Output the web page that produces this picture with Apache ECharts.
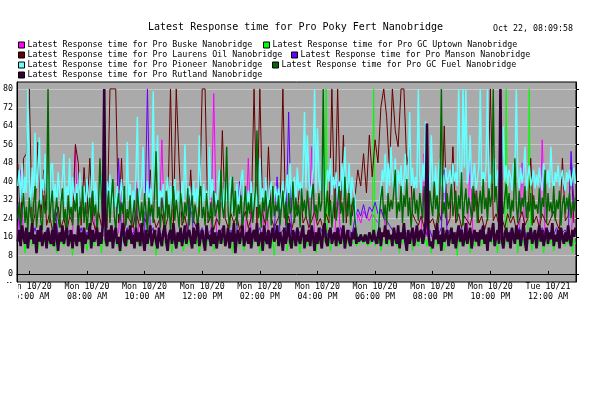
<!DOCTYPE html>
<html><head><meta charset="utf-8">
<script src="https://cdn.jsdelivr.net/npm/echarts@6/dist/echarts.min.js"></script>
<style>html,body{margin:0;padding:0;background:#fff}#c{width:616px;height:393px}</style>
</head><body><div id="c"></div>
<script>
// ---- data: minutes since Mon 10/20 00:00; each series sampled from START_MIN at its own step ----
const START_MIN = 336;
const seriesNames = [
  'Latest Response time for Pro Buske Nanobridge',
  'Latest Response time for Pro GC Uptown Nanobridge',
  'Latest Response time for Pro Laurens Oil Nanobridge',
  'Latest Response time for Pro Manson Nanobridge',
  'Latest Response time for Pro Pioneer Nanobridge',
  'Latest Response time for Pro GC Fuel Nanobridge',
  'Latest Response time for Pro Rutland Nanobridge'
];
const seriesStepMin = [6, 3, 6, 6, 3, 3, 3];
const buske = [16,45,15,18,14,17,16,19,14,16, 15,18,16,14,17,16,19,15,16,16, 55,16,17,15,18,16,33,14,16,16, 17,15,16,19,16,18,38,16,15,17,
  16,40,16,14,18,16,17,15,19,16, 58,16,15,18,16,17,14,16,16,19, 16,15,17,16,18,16,14,16,78,17, 16,18,15,16,16,19,14,17,16,16,
  50,16,18,15,17,16,42,16,14,18, 16,17,15,19,16,16,18,14,17,16, 15,18,55,16,17,14,16,19,16,17, 16,40,15,17,16,18,16,17,26,22,
  27,25,23,26,24,22,28,25,17,16, 16,17,15,16,18,16,17,16,19,15, 16,52,16,18,16,17,15,16,19,16, 15,17,16,15,18,16,17,50,15,16,
  18,15,17,16,19,15,16,14,17,16, 15,18,16,17,15,48,16,15,18,16, 17,15,58,16,15,18,16,17,15,16, 16,18,15,34];
const gcUptown = [
  14,16,13,15,17,9,15,13,16,14,12,15,17,13,10,15,14,16,13,15,
  16,13,14,12,15,17,13,9,14,16,13,15,12,14,17,13,15,14,8,16,
  13,15,14,17,12,16,13,15,10,14,16,13,17,12,15,14,13,16,9,15,
  14,12,16,13,20,15,14,13,16,12,15,9,14,16,13,15,12,17,14,13,
  15,13,16,14,12,17,13,15,10,14,16,13,12,15,14,17,8,13,15,14,
  16,12,14,15,13,17,14,9,15,13,16,12,14,15,13,10,16,14,12,15,
  13,15,14,16,12,15,9,14,13,17,15,12,14,16,13,15,10,14,16,13,
  14,16,13,15,12,17,14,13,16,9,15,13,14,16,12,15,13,10,14,16,
  15,13,16,12,14,17,13,15,9,14,16,12,15,13,14,17,12,15,8,14,
  13,16,14,12,15,13,17,10,14,16,13,15,12,14,16,13,9,15,14,13,
  16,12,15,14,13,17,15,9,14,13,16,12,15,14,80,13,16,10,14,15,
  13,15,14,12,16,13,15,14,13,16,12,15,14,13,15,12,14,13,15,14,
  13,15,14,12,16,13,14,80,12,15,13,16,10,14,15,13,16,12,15,14,
  16,13,15,12,14,9,16,13,15,14,12,17,13,15,10,14,16,13,12,15,
  14,16,13,15,12,17,14,9,15,13,16,12,14,15,13,17,10,14,16,13,
  15,13,16,12,14,8,15,13,17,14,12,16,13,15,9,14,16,12,15,13,
  14,16,12,15,13,17,10,14,16,13,15,12,14,9,16,13,15,14,12,80,
  13,15,12,16,14,13,17,9,15,13,16,12,14,15,13,80,14,10,16,13,
  15,12,14,16,13,9,15,14,12,17,13,15,10,14,16,13,12,15,14,13,
  12,15,13,16,14,9,15,13];
const laurensOil = [48,22,50,52,80,20,26,57,24,45, 21,26,19,23,29,20,24,18,25,22, 56,48,21,46,26,50,23,19,27,21, 24,20,80,80,80,22,50,19,25,23,
  20,27,22,18,24,21,45,25,20,23, 26,19,24,80,22,80,48,21,25,18, 45,23,20,26,80,80,22,25,19,24, 21,62,24,20,26,22,25,19,23,27,
  20,24,80,22,80,26,21,55,24,20, 23,26,80,21,25,19,24,27,40,22, 25,20,23,27,21,24,19,26,22,80, 24,80,27,60,22,40,25,33,45,38,
  52,35,60,42,58,48,72,80,68,45, 80,62,55,80,80,47,55,26,23,21, 25,20,26,22,24,19,27,23,64,21, 24,55,22,26,20,25,23,21,27,40,
  22,25,19,24,80,23,26,21,24,20, 26,22,25,19,23,27,21,24,50,22, 25,20,26,23,21,24,27,22,19,50, 23,25,48,22];
const manson = [30,17,19,16,18,16,20,15,17,16, 19,15,17,28,16,18,15,17,19,15, 17,16,20,15,18,17,19,15,17,16, 32,18,15,19,17,50,17,16,20,15,
  18,17,15,19,16,80,17,20,15,18, 17,19,16,17,20,15,18,17,15,19, 34,16,18,17,20,15,17,19,16,18, 17,20,15,17,19,16,18,40,17,15,
  19,16,18,17,20,15,17,19,16,18, 42,17,19,15,70,17,16,20,17,18, 15,19,17,18,16,20,17,15,19,17, 18,16,20,17,15,19,17,24,28,25,
  30,24,29,27,31,26,28,24,23,21, 19,17,18,15,20,17,16,19,17,18, 16,20,17,19,15,18,17,20,45,17, 19,16,18,17,20,15,17,19,16,18,
  17,20,15,18,17,19,16,20,17,18, 15,19,17,16,20,17,18,15,19,17, 16,18,20,17,19,15,17,20,17,18, 19,16,53,30];
const pioneer = [
  38,45,31,48,27,42,35,80,40,29,46,33,61,37,44,59,30,41,36,52,
  34,43,28,47,48,32,39,27,44,36,30,41,52,29,38,33,50,28,42,35,
  31,39,27,44,33,29,38,26,41,34,30,37,57,28,40,32,27,36,42,30,
  35,28,40,31,43,27,37,33,29,38,26,34,41,30,36,28,57,32,39,27,
  36,31,42,68,29,35,38,55,27,33,40,30,37,28,79,34,41,60,29,36,
  32,39,27,35,42,30,38,28,34,41,29,36,33,27,40,31,56,35,29,38,
  33,27,40,31,37,29,60,34,28,39,32,36,27,55,33,41,29,35,30,38,
  45,31,37,28,40,33,29,36,42,27,34,30,39,28,35,41,45,31,37,29,
  36,30,40,27,34,38,29,35,50,31,37,28,42,33,29,36,40,30,34,38,
  31,37,28,35,40,30,36,43,29,48,33,38,42,30,46,36,40,32,44,70,
  37,60,42,33,39,46,80,35,63,41,36,44,60,33,38,45,40,50,34,42,
  37,44,31,40,36,48,33,55,39,35,48,30,42,36,34,18,15,17,14,16,
  15,17,14,16,18,15,17,14,16,15,18,30,36,45,40,52,34,48,38,55,
  42,36,50,33,45,39,47,35,41,52,34,44,70,38,46,35,42,37,80,43,
  35,48,40,66,37,44,34,60,41,36,47,33,45,50,38,43,35,46,39,42,
  45,36,48,40,44,38,80,42,35,80,46,80,39,44,60,37,43,48,36,41,
  46,80,38,44,40,47,80,36,43,39,48,50,37,45,41,36,44,64,40,47,
  38,45,42,36,48,40,80,43,37,46,39,44,55,36,42,47,38,41,45,37,
  43,38,46,40,36,48,42,39,45,37,55,41,36,44,40,47,38,42,45,39,
  36,44,40,45,38,42,46,39];
const gcFuel = [
  24,31,19,27,35,22,29,18,33,25,21,30,38,20,27,32,23,19,34,26,
  28,80,22,30,36,19,26,33,24,20,31,37,23,28,18,34,25,29,21,32,
  27,35,20,29,24,38,22,31,19,27,33,21,36,25,30,18,28,50,34,23,
  30,20,27,36,22,33,41,25,19,29,35,23,31,26,38,21,28,24,34,20,
  26,32,19,37,28,23,31,21,35,27,18,33,25,30,22,36,53,24,29,20,
  33,27,21,36,24,30,19,28,38,23,32,26,20,35,29,22,31,25,37,21,
  28,34,22,30,26,19,33,38,24,29,21,35,27,23,31,20,36,25,28,32,
  22,45,29,24,33,55,27,20,31,42,25,36,21,30,26,34,19,28,38,24,
  31,26,35,22,29,37,62,24,30,20,33,27,36,23,28,32,21,38,25,30,
  27,34,21,29,36,24,31,19,35,26,28,40,22,33,25,30,20,37,27,32,
  24,36,28,21,33,39,26,30,23,35,27,31,80,22,29,36,25,32,20,28,
  34,23,30,38,26,31,22,42,28,25,35,21,29,33,24,18,16,14,17,15,
  16,14,17,15,18,16,14,17,15,16,13,26,33,38,24,30,21,35,27,32,
  28,36,45,24,31,27,38,22,34,29,41,25,33,20,30,37,26,32,23,35,
  29,24,38,27,33,21,36,30,25,40,28,34,22,37,80,26,31,24,35,28,
  32,39,25,30,36,23,34,28,44,21,31,37,26,33,29,24,38,27,35,22,
  30,36,26,41,28,33,23,37,29,34,80,31,38,27,22,35,30,26,33,39,
  28,35,24,32,27,50,30,22,36,26,33,29,38,24,31,27,35,21,34,28,
  30,26,37,24,33,29,45,22,35,27,31,25,38,23,32,28,36,21,30,34,
  26,33,28,35,24,31,27,33];
const rutland = [
  14,19,12,21,16,13,20,11,18,15,22,13,17,9,19,14,21,12,16,18,
  11,20,15,13,19,12,22,16,10,18,14,21,13,17,20,12,15,19,11,17,
  16,12,21,14,18,9,20,13,17,15,22,11,19,14,16,20,12,18,13,21,
  80,15,12,19,14,21,11,17,20,13,16,10,18,22,14,12,19,15,21,13,
  17,11,20,14,18,12,22,15,10,19,13,17,21,12,16,19,14,11,20,15,
  12,18,21,14,10,17,19,13,22,15,11,18,14,20,12,16,21,13,17,19,
  15,11,20,13,18,22,12,16,19,14,10,21,15,17,12,20,13,18,11,16,
  19,13,17,21,12,15,20,11,18,14,22,9,16,19,13,17,21,12,15,18,
  13,20,11,17,19,14,22,12,16,18,10,21,15,13,19,11,17,20,14,16,
  21,12,18,15,10,20,13,17,22,14,11,19,16,12,20,15,13,18,21,11,
  17,14,19,12,21,16,10,18,13,20,15,11,19,22,14,12,17,20,13,16,
  18,12,20,15,13,17,21,11,16,19,14,12,18,15,20,13,16,14,17,15,
  14,17,15,13,18,16,14,19,15,13,17,20,12,18,16,21,13,19,15,17,
  12,20,16,13,21,11,18,15,22,14,10,19,13,17,20,12,16,21,14,18,
  19,13,16,21,65,18,12,14,11,19,15,22,13,17,10,20,14,16,19,12,
  16,20,13,18,11,17,21,14,19,12,15,22,13,17,20,11,16,19,14,18,
  12,19,15,21,13,17,10,20,14,18,22,12,16,19,13,80,15,11,17,20,
  14,18,11,20,16,13,21,15,19,12,17,22,14,10,18,15,20,13,16,19,
  11,17,21,14,19,12,16,20,13,18,15,22,12,17,14,19,11,20,16,13,
  18,14,21,15,12,19,16,20];
const seriesValues = [buske, gcUptown, laurensOil, manson, pioneer, gcFuel, rutland];
const seriesColors = ['#ff00ff', '#00ff00', '#660000', '#6600ff', '#66ffff', '#006600', '#330033'];
const seriesWidths = [1, 1, 1, 1, 1.5, 1.4, 2.6];
const yTicks = [0, 8, 16, 24, 32, 40, 48, 56, 64, 72, 80];
const xTicks = [360, 480, 600, 720, 840, 960, 1080, 1200, 1320, 1440];
const X_MIN = 334.4, X_MAX = 1498.3;
const Y_MIN = -3.5, Y_MAX = 83;

const FONT = 'DejaVu Sans Mono';
function xLabel(v) {
  const day = v >= 1440 ? 'Tue 10/21' : 'Mon 10/20';
  const h = Math.floor(v / 60) % 24;
  const h12 = (h % 12) || 12;
  const ap = h < 12 ? 'AM' : 'PM';
  return day + '\n' + String(h12).padStart(2, '0') + ':00 ' + ap;
}

const legendPos = [[18, 41], [263, 41], [18, 51], [291, 51], [18, 61], [272, 61], [18, 71]];
const legends = seriesNames.map((n, i) => ({
  data: [n], left: legendPos[i][0], top: legendPos[i][1], padding: 0,
  icon: 'rect', itemWidth: 6, itemHeight: 6, selectedMode: false,
  itemStyle: { borderColor: '#000', borderWidth: 1 },
  textStyle: { fontFamily: FONT, fontSize: 8.3, color: '#000', padding: [0, 0, 0, -2] }
}));

const chart = echarts.init(document.getElementById('c'), null, { renderer: 'canvas' });
chart.setOption({
  animation: false,
  backgroundColor: '#fff',
  title: [
    { text: 'Latest Response time for Pro Poky Fert Nanobridge', left: 148, top: 22, padding: 0,
      textStyle: { fontFamily: FONT, fontSize: 10, fontWeight: 'normal', color: '#000' } },
    { text: 'Oct 22, 08:09:58', left: 493, top: 25, padding: 0,
      textStyle: { fontFamily: FONT, fontSize: 8.3, fontWeight: 'normal', color: '#000' } }
  ],
  legend: legends,
  grid: { left: 17, right: 40, top: 82, bottom: 111, show: true, backgroundColor: '#aaaaaa',
    borderColor: '#000', borderWidth: 1 },
  xAxis: {
    type: 'value', min: X_MIN, max: X_MAX,
    axisLine: { show: true, lineStyle: { color: '#000' } },
    axisTick: { show: true, inside: true, length: 3, customValues: xTicks, lineStyle: { color: '#000' } },
    axisLabel: { customValues: xTicks, formatter: xLabel, margin: 0, fontFamily: FONT, fontSize: 8.3,
      lineHeight: 10, color: '#000', showMinLabel: true, showMaxLabel: true },
    splitLine: { show: false }
  },
  yAxis: [{
    type: 'value', min: Y_MIN, max: Y_MAX,
    axisLine: { show: true, lineStyle: { color: '#000' } },
    axisTick: { show: false, customValues: yTicks },
    axisLabel: { customValues: yTicks, margin: 4, fontFamily: FONT, fontSize: 8.3, color: '#000' },
    splitLine: { show: true, lineStyle: { color: '#c8c8c8', width: 1 } }
  }, {
    type: 'value', min: Y_MIN, max: Y_MAX, position: 'right',
    axisLine: { show: true, lineStyle: { color: '#000' } },
    axisTick: { show: true, length: 3, customValues: yTicks, lineStyle: { color: '#000' } },
    axisLabel: { show: false }, splitLine: { show: false }
  }],
  graphic: [{ type: 'rect', left: 0, top: 283, shape: { width: 18, height: 30 }, style: { fill: '#fff' }, z: 100 }],
  series: seriesNames.map((n, k) => ({
    name: n, type: 'line', showSymbol: false, symbol: 'none', silent: true,
    data: seriesValues[k].map((v, i) => [START_MIN + seriesStepMin[k] * i, v]),
    itemStyle: { color: seriesColors[k] },
    lineStyle: { color: seriesColors[k], width: seriesWidths[k] },
    clip: true
  }))
});
</script></body></html>
